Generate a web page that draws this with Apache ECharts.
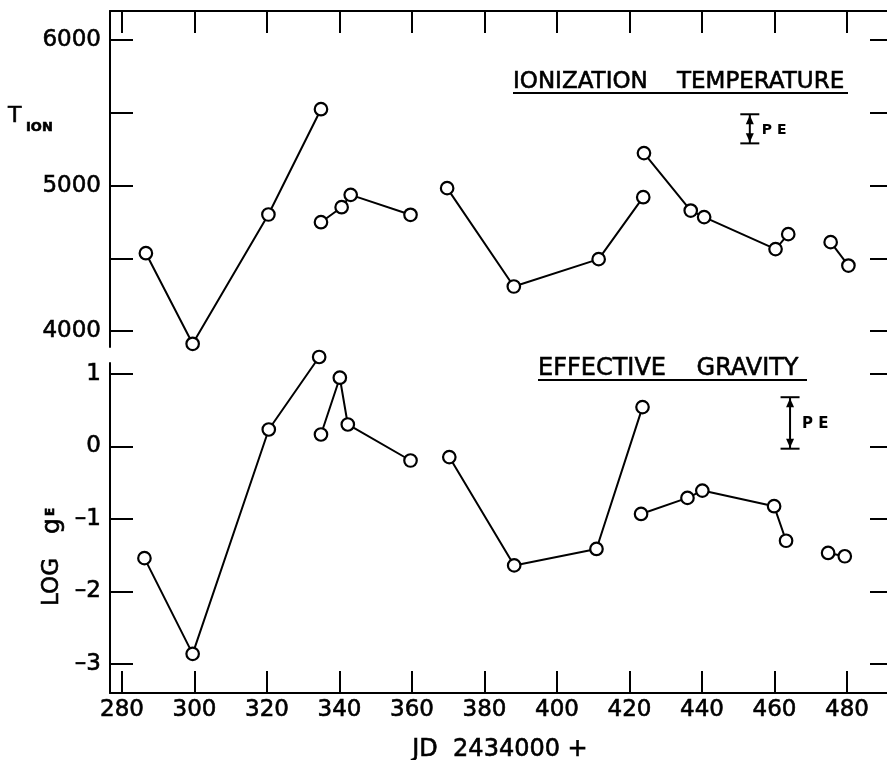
<!DOCTYPE html>
<html>
<head>
<meta charset="utf-8">
<script src="https://cdn.jsdelivr.net/npm/echarts@6/dist/echarts.min.js"></script>
<style>html,body{margin:0;padding:0;background:#fff}#c{width:887px;height:760px}</style>
</head>
<body>
<div id="c"></div>
<script>
// ---- data ----
const jdTion  = [286.6, 299.5, 320.4, 334.9, 334.9, 340.6, 343.1, 359.6, 369.7, 388.1, 411.5, 423.8, 424.0, 436.9, 440.6, 460.3, 463.8, 475.5, 480.4];
const tIon    = [4535, 3912, 4801, 5525, 4748, 4851, 4936, 4799, 4982, 4306, 4494, 4920, 5223, 4828, 4783, 4563, 4666, 4611, 4450];
const tIonSeg = [1, 1, 1, 1, 2, 2, 2, 2, 3, 3, 3, 3, 4, 4, 4, 4, 4, 5, 5];

const jdLogg  = [286.2, 299.5, 320.5, 334.4, 334.9, 340.1, 342.3, 359.6, 370.3, 388.2, 410.9, 423.6, 423.2, 436.0, 440.1, 459.9, 463.2, 474.8, 479.4];
const logG    = [-1.54, -2.86, 0.235, 1.235, 0.166, 0.949, 0.304, -0.193, -0.146, -1.64, -1.413, 0.544, -0.93, -0.709, -0.608, -0.823, -1.30, -1.468, -1.514];
const logGSeg = [1, 1, 1, 1, 2, 2, 2, 2, 3, 3, 3, 3, 4, 4, 4, 4, 4, 5, 5];

const xTicks      = [280, 300, 320, 340, 360, 380, 400, 420, 440, 460, 480];
const tIonTicks   = [4000, 4500, 5000, 5500, 6000];
const tIonLabels  = [4000, 5000, 6000];
const logGTicks   = [-3, -2, -1, 0, 1];

const peTion = [453.2, 5290, 5490];   // probable error bar: x, low, high
const peLogg = [464.3, -0.03, 0.68];

// ---- build ----
const FONT = 'DejaVu Sans';
function txt(text, x, y, font, align, rot) {
  const el = { type: 'text', x: x, y: y,
    style: { text: text, font: font, fill: '#000', stroke: '#000', lineWidth: 0.6,
             align: align, verticalAlign: 'middle', textAlign: align, textVerticalAlign: 'middle' } };
  if (rot) el.rotation = rot;
  return el;
}
function segSeries(xs, ys, seg, axisIdx) {
  const groups = {};
  xs.forEach((x, i) => { (groups[seg[i]] = groups[seg[i]] || []).push([x, ys[i]]); });
  return Object.keys(groups).map(k => ({
    type: 'line', xAxisIndex: axisIdx, yAxisIndex: axisIdx * 2,
    data: groups[k], symbol: 'circle', symbolSize: 12.5, clip: false,
    lineStyle: { color: '#000', width: 2 },
    itemStyle: { color: '#fff', borderColor: '#000', borderWidth: 2.2 },
    emphasis: { disabled: true }, z: 3
  }));
}
function peSeries(pe, axisIdx, fs) {
  return {
    type: 'custom', xAxisIndex: axisIdx, yAxisIndex: axisIdx * 2, clip: false, z: 4,
    data: [pe],
    renderItem: function (params, api) {
      const lo = api.coord([api.value(0), api.value(1)]);
      const hi = api.coord([api.value(0), api.value(2)]);
      const x = lo[0], st = { stroke: '#000', lineWidth: 2 };
      return { type: 'group', children: [
        { type: 'line', shape: { x1: x, y1: hi[1], x2: x, y2: lo[1] }, style: st },
        { type: 'line', shape: { x1: x - 9.5, y1: hi[1], x2: x + 9.5, y2: hi[1] }, style: st },
        { type: 'line', shape: { x1: x - 9.5, y1: lo[1], x2: x + 9.5, y2: lo[1] }, style: st },
        { type: 'polygon', shape: { points: [[x, hi[1] + 1], [x - 4, hi[1] + 10], [x + 4, hi[1] + 10]] }, style: { fill: '#000' } },
        { type: 'polygon', shape: { points: [[x, lo[1] - 1], [x - 4, lo[1] - 10], [x + 4, lo[1] - 10]] }, style: { fill: '#000' } },
        { type: 'text', x: x + 12, y: (hi[1] + lo[1]) / 2 + 1.5,
          style: { text: 'P E', font: 'bold ' + fs + 'px ' + FONT, fill: '#000', align: 'left', verticalAlign: 'middle', textAlign: 'left', textVerticalAlign: 'middle' } }
      ]};
    }
  };
}

const axisLineS = { show: true, onZero: false, lineStyle: { color: '#000', width: 2 } };
const tickS = (vals, len) => ({ show: true, inside: true, length: len, customValues: vals, lineStyle: { color: '#000', width: 2 } });
const lblS = (vals, margin, fmt) => ({ show: true, customValues: vals, margin: margin, color: '#000', fontSize: 23, fontFamily: FONT,
  textBorderColor: '#000', textBorderWidth: 0.6, formatter: fmt });

const option = {
  animation: false,
  backgroundColor: '#fff',
  grid: [
    { left: 110, top: 11, width: 783, height: 336, outerBoundsMode: 'none', containLabel: false },
    { left: 110, top: 363, width: 783, height: 330, outerBoundsMode: 'none', containLabel: false }
  ],
  xAxis: [
    { type: 'value', gridIndex: 0, position: 'top', min: 276.7, max: 492.7,
      axisLine: axisLineS, axisTick: tickS(xTicks, 22), axisLabel: { show: false }, splitLine: { show: false } },
    { type: 'value', gridIndex: 1, position: 'bottom', min: 276.7, max: 492.7,
      axisLine: axisLineS, axisTick: tickS(xTicks, 22), axisLabel: lblS(xTicks, 6, v => String(v)), splitLine: { show: false } }
  ],
  yAxis: [
    { type: 'value', gridIndex: 0, position: 'left', min: 3890, max: 6200,
      axisLine: axisLineS, axisTick: tickS(tIonTicks, 23), axisLabel: lblS(tIonLabels, 9, v => String(v)), splitLine: { show: false } },
    { type: 'value', gridIndex: 0, position: 'right', min: 3890, max: 6200,
      axisLine: { show: false }, axisTick: tickS(tIonTicks, 23), axisLabel: { show: false }, splitLine: { show: false } },
    { type: 'value', gridIndex: 1, position: 'left', min: -3.40, max: 1.152,
      axisLine: axisLineS, axisTick: tickS(logGTicks, 23),
      axisLabel: lblS(logGTicks, 9, v => String(v).replace('-', '\u2013')), splitLine: { show: false } },
    { type: 'value', gridIndex: 1, position: 'right', min: -3.40, max: 1.152,
      axisLine: { show: false }, axisTick: tickS(logGTicks, 23), axisLabel: { show: false }, splitLine: { show: false } }
  ],
  series: [].concat(
    segSeries(jdTion, tIon, tIonSeg, 0),
    segSeries(jdLogg, logG, logGSeg, 1),
    [peSeries(peTion, 0, 14), peSeries(peLogg, 1, 15)]
  ),
  graphic: [
    txt('IONIZATION    TEMPERATURE', 513, 82, '23px ' + FONT, 'left'),
    { type: 'line', shape: { x1: 513, y1: 93, x2: 848, y2: 93 }, style: { stroke: '#000', lineWidth: 2 } },
    txt('EFFECTIVE    GRAVITY', 538, 369, '24px ' + FONT, 'left'),
    { type: 'line', shape: { x1: 538, y1: 380, x2: 807, y2: 380 }, style: { stroke: '#000', lineWidth: 2 } },
    txt('T', 8, 116, '22px ' + FONT, 'left'),
    txt('ION', 26, 128, 'bold 13px ' + FONT, 'left'),
    txt('LOG', 52, 582, '23px ' + FONT, 'center', Math.PI / 2),
    txt('g', 52, 526, '25px ' + FONT, 'center', Math.PI / 2),
    txt('E', 51, 512, 'bold 12px ' + FONT, 'center', Math.PI / 2),
    txt('JD  2434000 +', 500, 750, '24px ' + FONT, 'center')
  ]
};
const chart = echarts.init(document.getElementById('c'), null, { renderer: 'canvas' });
chart.setOption(option);
</script>
</body>
</html>
